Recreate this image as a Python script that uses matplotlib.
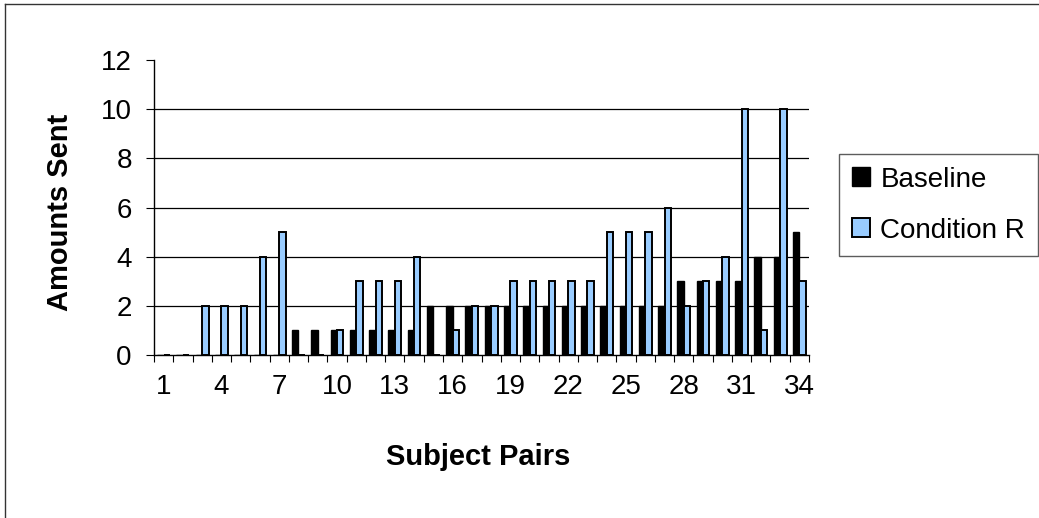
import matplotlib
matplotlib.use("Agg")
import matplotlib.pyplot as plt
import numpy as np
from matplotlib.lines import Line2D

plt.rcParams['font.family'] = ['Liberation Sans', 'DejaVu Sans']

# Subject pairs 1..34
pairs = list(range(1, 35))
baseline = [0, 0, 0, 0, 0, 0, 0, 1, 1, 1, 1, 1, 1, 1, 2, 2, 2,
            2, 2, 2, 2, 2, 2, 2, 2, 2, 2, 3, 3, 3, 3, 4, 4, 5]
condition_r = [0, 0, 2, 2, 2, 4, 5, 0, 0, 1, 3, 3, 3, 4, 0, 1, 2,
               2, 3, 3, 3, 3, 3, 5, 5, 5, 6, 2, 3, 4, 10, 1, 10, 3]
y_ticks = [0, 2, 4, 6, 8, 10, 12]
x_labels = [1, 4, 7, 10, 13, 16, 19, 22, 25, 28, 31, 34]

W, H = 1039, 518
fig = plt.figure(figsize=(W / 100, H / 100), dpi=100)
ax = fig.add_axes([154 / W, 1 - 355 / H, (809 - 154) / W, (355 - 60) / H])

x = np.array(pairs, dtype=float)
bw = 1 / 3
ax.bar(x - bw / 2, baseline, width=bw, color='black', edgecolor='black',
       linewidth=1.0, label='Baseline', zorder=3)
ax.bar(x + bw / 2, condition_r, width=bw, color='#99CCFF', edgecolor='black',
       linewidth=1.4, label='Condition R', zorder=3)

ax.set_xlim(0.5, 34.5)
ax.set_ylim(0, 12)

# horizontal gridlines (none at the top value)
for v in y_ticks[1:-1]:
    ax.axhline(v, color='black', linewidth=0.9, zorder=1)

ax.spines['top'].set_visible(False)
ax.spines['right'].set_visible(False)
ax.spines['left'].set_linewidth(1.0)
ax.spines['bottom'].set_linewidth(1.0)

ax.set_yticks(y_ticks)
ax.set_yticklabels([str(v) for v in y_ticks])
ax.tick_params(axis='y', direction='out', length=6, width=0.8,
               labelsize=20, pad=10)

ax.set_xticks(x_labels)
ax.set_xticklabels([str(v) for v in x_labels])
ax.set_xticks(np.arange(0.5, 35.0, 1.0), minor=True)
ax.tick_params(axis='x', which='major', length=0, labelsize=20, pad=14)
ax.tick_params(axis='x', which='minor', direction='out', length=5, width=0.8)

fig.text(60 / W, 1 - 212 / H, 'Amounts Sent', rotation=90, fontsize=21,
         fontweight='bold', ha='center', va='center')
fig.text(478 / W, 1 - 457 / H, 'Subject Pairs', fontsize=21,
         fontweight='bold', ha='center', va='center')

leg = fig.legend(loc='upper left', bbox_to_anchor=(839 / W, 1 - 154 / H),
                 bbox_transform=fig.transFigure, borderaxespad=0,
                 fontsize=20, frameon=True, fancybox=False, shadow=False,
                 borderpad=0.45, labelspacing=0.9, handlelength=0.68,
                 handleheight=0.68, handletextpad=0.36)
leg.get_frame().set_edgecolor('#333333')
leg.get_frame().set_linewidth(1.0)

# outer frame (left and top edges)
fig.add_artist(Line2D([5 / W, 5 / W], [0, 1 - 4 / H], color='#333333',
                      linewidth=1.0, transform=fig.transFigure))
fig.add_artist(Line2D([5 / W, 1], [1 - 4 / H, 1 - 4 / H], color='#333333',
                      linewidth=1.0, transform=fig.transFigure))

fig.savefig('out.png', dpi=100)
